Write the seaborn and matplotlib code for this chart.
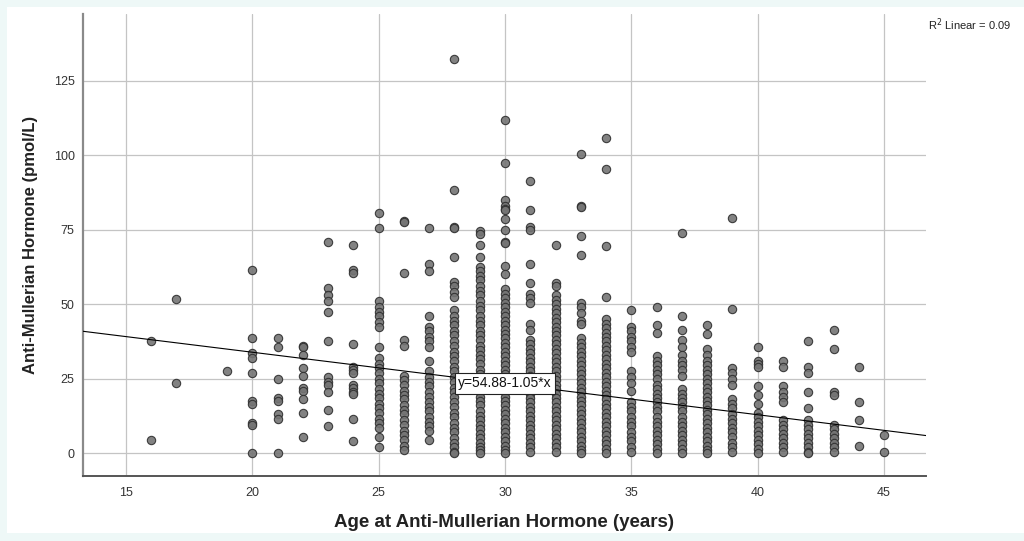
import numpy as np
import pandas as pd
import matplotlib
matplotlib.use("Agg")
import matplotlib.pyplot as plt
import seaborn as sns
from matplotlib.patches import Rectangle

# ---- data: AMH (pmol/L) observed at each age (years) ----
amh_16 = [37.5, 4.5]
amh_17 = [51.6, 23.5]
amh_19 = [27.7]
amh_20 = [61.5, 38.5, 33.5, 32, 27, 17.5, 16.5, 10, 9.5, 0]
amh_21 = [38.5, 35.5, 25, 18.5, 17.5, 13, 11.5, 0]
amh_22 = [36, 35.5, 33, 28.5, 26, 22, 21, 18, 13.5, 5.5]
amh_23 = [71, 55.5, 53, 51, 47.5, 37.5, 25.5, 24, 23, 20.5, 14.5, 9]
amh_24 = [70, 61.5, 60.5, 36.5, 29, 28, 27, 23, 22, 20.5, 20, 11.5, 4]
amh_25 = [80.5, 75.5, 51, 49, 47.5, 46, 44, 42.5, 35.5, 32, 30, 28.5, 27, 25,
          23.5, 21.5, 20, 18.5, 16.5, 15, 13.5, 11.5, 10, 8.5, 5.5, 2]
amh_26 = [78, 77.5, 60.5, 38, 36, 26, 24.5, 23, 21, 19.5, 18, 16, 14.5, 13, 11,
          9.5, 7.5, 6, 4.5, 2.5, 1]
amh_27 = [75.5, 63.5, 61, 46, 42.5, 41, 39, 37.5, 35.5, 31, 27.5, 25.5, 24,
          22.5, 20.5, 19, 17, 15.5, 14, 12, 10.5, 9, 7.5, 4.5]
amh_28 = [132.5, 88.5, 76, 75.5, 66, 57.5, 56, 54, 52.5, 48, 46, 44.5, 43, 41,
          39.5, 37.5, 36, 34, 32.5, 31, 29, 27.5, 25.5, 24, 22, 20.5, 19, 17,
          15.5, 13.5, 12, 10, 8.5, 7, 5, 3.5, 2, 0.5, 0]
amh_29 = [74.5, 73.5, 70, 66, 62.5, 61, 59.5, 58, 56, 54.5, 53, 51, 49.5, 48,
          46, 44.5, 43, 41, 39.5, 38, 36, 34.5, 33, 31.5, 30, 28, 26.5, 25,
          23.5, 22, 20.5, 19, 17.5, 16, 14, 12.5, 11, 9.5, 8, 6.5, 5, 3.5, 2,
          1, 0]
amh_30 = [112, 97.5, 85, 83, 82, 81.5, 78.5, 75, 71, 70.5, 63, 60, 55, 53.5,
          52, 50.5, 49, 47.5, 46, 44.5, 43, 41.5, 40, 38.5, 37, 35.5, 34, 32.5,
          31, 29.5, 28, 26.5, 25, 23.5, 22, 20.5, 19, 17.5, 16, 14.5, 13, 11.5,
          10, 8.5, 7, 5.5, 4, 2.5, 1, 0]
amh_31 = [91.5, 81.5, 76, 75, 63.5, 57, 53.5, 52, 50.5, 43.5, 41.5, 38, 36.5,
          35, 33.5, 32, 30.5, 29, 27.5, 26, 24.5, 23, 21.5, 20, 18.5, 17, 15.5,
          14, 12.5, 11, 9.5, 8, 6.5, 5, 3.5, 2, 0.5]
amh_32 = [70, 57, 56, 53, 51.5, 50, 48.5, 47, 45.5, 44, 42.5, 41, 39.5, 38,
          36.5, 35, 33.5, 32, 30.5, 29, 27.5, 26, 24.5, 23, 21.5, 20, 18.5, 17,
          15.5, 14, 12.5, 11, 9.5, 8, 6.5, 5, 3.5, 2, 0.5]
amh_33 = [100.5, 83, 82.5, 73, 66.5, 50.5, 49, 47, 44.5, 43.5, 38.5, 37, 35.5,
          34, 32.5, 31, 29.5, 28, 26.5, 25, 23.5, 22, 20.5, 19, 17.5, 16, 14.5,
          13, 11.5, 10, 8.5, 7, 5.5, 4, 2.5, 1, 0]
amh_34 = [106, 95.5, 69.5, 52.5, 45, 43.5, 42, 40.5, 39, 37.5, 36, 34.5, 33,
          31.5, 30, 28.5, 27, 25.5, 24, 22.5, 21, 19.5, 18, 16.5, 15, 13.5, 12,
          10.5, 9, 7.5, 6, 4.5, 3, 1.5, 0]
amh_35 = [48, 42.5, 41, 39, 37.5, 35.5, 34, 27.5, 25.5, 23.5, 21, 17, 15.5, 14,
          12, 10.5, 9, 7, 5.5, 4, 2, 0.5]
amh_36 = [49, 43, 40.5, 32.5, 31, 29.5, 28, 26.5, 25, 23, 21.5, 20, 18.5, 17,
          15.5, 14, 12, 10.5, 9, 7.5, 6, 4.5, 3, 1.5, 0]
amh_37 = [74, 46, 41.5, 38, 35.5, 33, 31, 29.5, 28, 26, 21.5, 20, 18.5, 17,
          15.5, 14, 12, 10.5, 9, 7.5, 6, 4.5, 3, 1.5, 0]
amh_38 = [43, 40, 35, 33, 31, 29.5, 28, 26.5, 25, 23.5, 22, 20.5, 19, 17.5, 16,
          14.5, 13, 11.5, 10, 8.5, 7, 5.5, 4, 2.5, 1, 0]
amh_39 = [79, 48.5, 28.5, 27, 25, 23, 18, 16.5, 15, 13, 11.5, 10, 8.5, 7, 5.5,
          3.5, 2, 0.5]
amh_40 = [35.5, 31, 30, 29, 22.5, 19.5, 16.5, 13.5, 12, 10.5, 9, 7.5, 6, 4.5,
          3, 1.5, 0]
amh_41 = [31, 29, 22.5, 20.5, 19, 17, 11, 9.5, 8, 6.5, 5, 3.5, 2, 0.5]
amh_42 = [37.5, 29, 27, 20.5, 15, 11, 9.5, 8, 6.5, 5, 3.5, 2, 0.5, 0]
amh_43 = [41.5, 35, 20.5, 19.5, 9.5, 8, 6.5, 5, 3.5, 2, 0.5]
amh_44 = [29, 17, 11, 2.5]
amh_45 = [6, 0.5]

fit_intercept = 54.88
fit_slope = -1.05
r_squared = 0.09
x_ticks = [15, 20, 25, 30, 35, 40, 45]
y_ticks = [0, 25, 50, 75, 100, 125]

columns = {16: amh_16, 17: amh_17, 19: amh_19, 20: amh_20, 21: amh_21,
           22: amh_22, 23: amh_23, 24: amh_24, 25: amh_25, 26: amh_26,
           27: amh_27, 28: amh_28, 29: amh_29, 30: amh_30, 31: amh_31,
           32: amh_32, 33: amh_33, 34: amh_34, 35: amh_35, 36: amh_36,
           37: amh_37, 38: amh_38, 39: amh_39, 40: amh_40, 41: amh_41,
           42: amh_42, 43: amh_43, 44: amh_44, 45: amh_45}
rows = [(age, v) for age, vals in columns.items() for v in vals]
df = pd.DataFrame(rows, columns=["age", "amh"])

sns.set_theme(style="white")
plt.rcParams["font.family"] = ["Liberation Sans", "DejaVu Sans"]

fig = plt.figure(figsize=(10.24, 5.41), dpi=100)
fig.patch.set_facecolor("#eef8f7")
fig.patches.append(Rectangle((7 / 1024, 8 / 541), 1 - 7 / 1024, 1 - 15 / 541,
                             transform=fig.transFigure, facecolor="white",
                             edgecolor="none", zorder=-10))
ax = fig.add_axes([83 / 1024, 65 / 541, (926 - 83) / 1024, (476 - 14) / 541])
ax.set_facecolor("white")

ax.set_xlim(13.3, 46.66)
ax.set_ylim(-7.7, 147.5)
ax.set_xticks(x_ticks)
ax.set_yticks(y_ticks)
ax.grid(True, color="#c4c4c4", linewidth=0.9)
ax.set_axisbelow(True)

sns.scatterplot(data=df, x="age", y="amh", ax=ax, s=36, color="#747474",
                edgecolor="#2e2e2e", linewidth=0.8, alpha=0.9, zorder=3)

ax.axline((0, fit_intercept), slope=fit_slope, color="black", linewidth=0.8,
          zorder=4)
lx = 30
ax.text(lx, fit_intercept + fit_slope * lx, "y=54.88-1.05*x", ha="center",
        va="center", fontsize=10, color="#111111", zorder=5,
        bbox=dict(boxstyle="square,pad=0.25", facecolor="white",
                  edgecolor="#222222", linewidth=0.8))

for s in ["top", "right"]:
    ax.spines[s].set_visible(False)
ax.spines["left"].set_color("#8a8a8a")
ax.spines["left"].set_linewidth(1.6)
ax.spines["bottom"].set_color("#555555")
ax.spines["bottom"].set_linewidth(1.4)
ax.tick_params(axis="both", length=0, labelsize=9, colors="#333333")
ax.tick_params(axis="x", pad=8)
ax.tick_params(axis="y", pad=6)

ax.set_xlabel("Age at Anti-Mullerian Hormone (years)", fontsize=13.5,
              fontweight="bold", color="#222222", labelpad=11)
ax.set_ylabel("Anti-Mullerian Hormone (pmol/L)", fontsize=12,
              fontweight="bold", color="#222222", labelpad=11)

fig.text(928 / 1024, 1 - 25 / 541, f"R$^2$ Linear = {r_squared:.2f}",
         fontsize=8, color="#222222", ha="left", va="center")

fig.savefig("out.png", dpi=100, facecolor=fig.get_facecolor())
